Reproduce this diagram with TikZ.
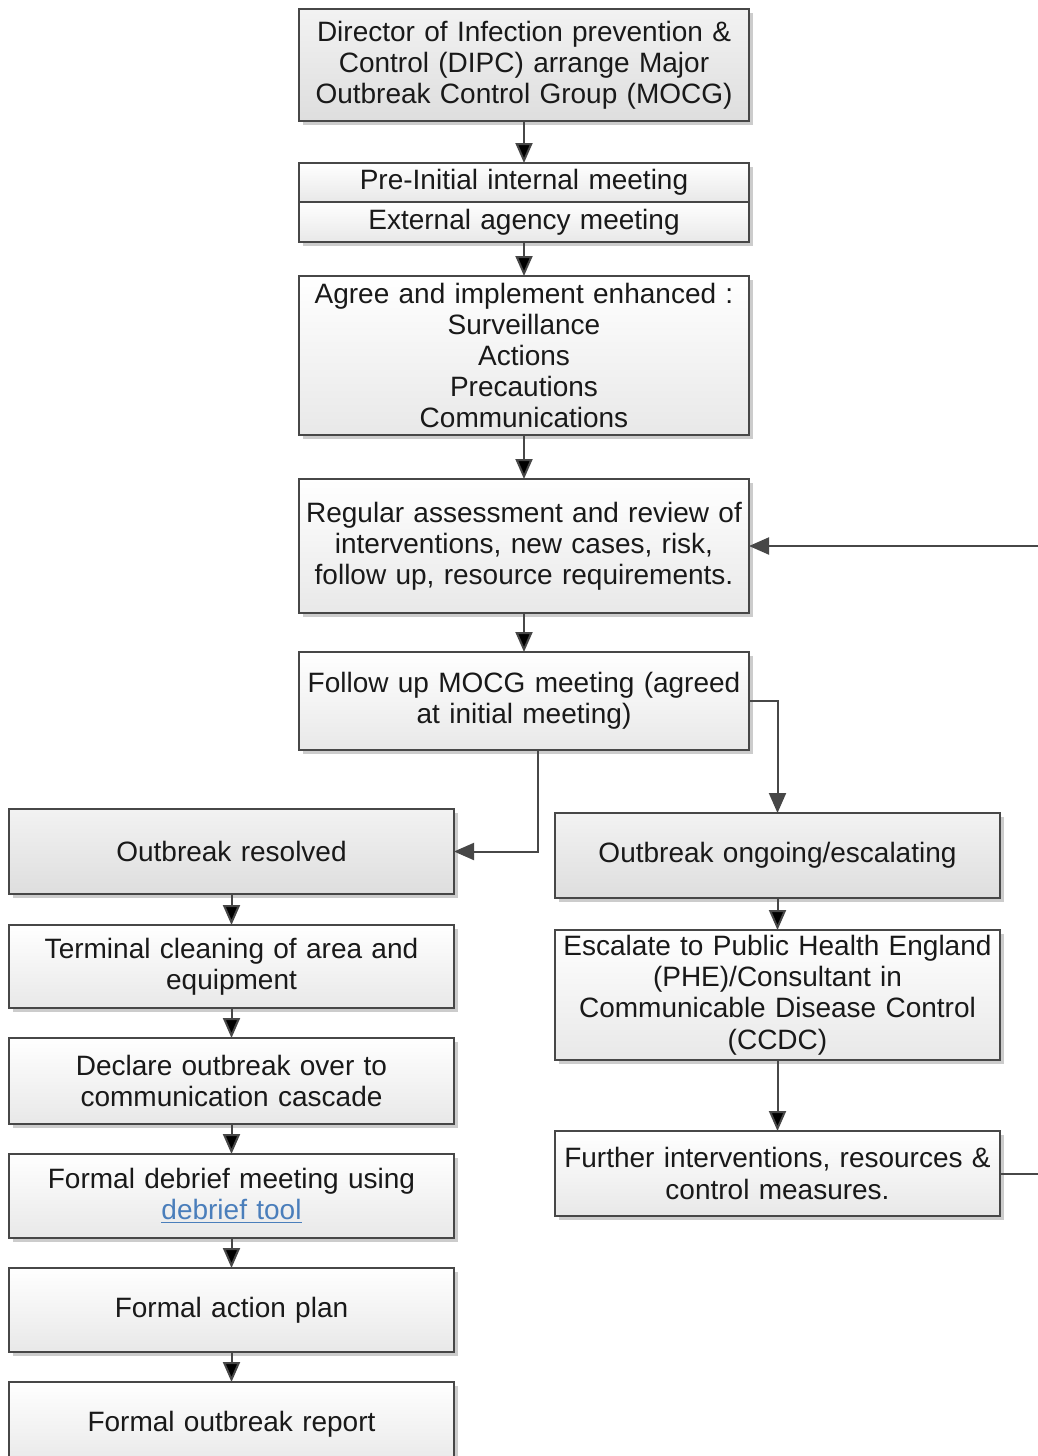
\documentclass[tikz,border=0pt]{standalone}
\usepackage{fontspec}
\setmainfont{Liberation Sans}
\usetikzlibrary{positioning,shadows,arrows.meta}
\definecolor{boxline}{HTML}{474747}
\definecolor{linkblue}{HTML}{4A7EBB}

\begin{document}
\begin{tikzpicture}[x=0.5pt,y=-0.5pt,
   box/.style={draw=boxline, line width=1pt, top color=white, bottom color=black!9,
      drop shadow={shadow xshift=2pt, shadow yshift=-2pt, fill=black!20, opacity=1},
      text width=223pt, inner xsep=1pt, inner ysep=0pt, outer sep=0pt, align=center, text=black!90,
      font=\fontsize{14pt}{15.6pt}\selectfont},
   sidebox/.style={box, text width=220.5pt},
   greybox/.style={top color=black!5, bottom color=black!13},
   arr/.style={draw=boxline, line width=1pt, -{Triangle[length=10pt,width=8.5pt]}}]
   \useasboundingbox (0,0) rectangle (1038,1456);

   \node[box, greybox, minimum height=56pt] (dipc) at (524,9) [anchor=north]
      {Director of Infection prevention \&\\ Control (DIPC) arrange Major\\ Outbreak Control Group (MOCG)};
   \node[box, minimum height=19.5pt] (pre)   [below=21pt of dipc]   {Pre-Initial internal meeting};
   \node[box, minimum height=20pt]   (ext)   [below=0pt of pre]     {External agency meeting};
   \node[box, minimum height=79.5pt] (agree) [below=17pt of ext]
      {Agree and implement enhanced :\\ Surveillance\\ Actions\\ Precautions\\ Communications};
   \node[box, minimum height=67pt]   (review) [below=22pt of agree]
      {Regular assessment and review of\\ interventions, new cases, risk,\\ follow up, resource requirements.};
   \node[box, minimum height=49pt]   (follow) [below=19.5pt of review]
      {Follow up MOCG meeting (agreed\\ at initial meeting)};

   \node[sidebox, greybox, minimum height=42.5pt] (resolved) at (231.5,809) [anchor=north] {Outbreak resolved};
   \node[sidebox, minimum height=41.5pt] (clean)   [below=15.5pt of resolved] {Terminal cleaning of area and\\ equipment};
   \node[sidebox, minimum height=43pt]   (declare) [below=15pt of clean]      {Declare outbreak over to\\ communication cascade};
   \node[sidebox, minimum height=42pt]   (debrief) [below=15pt of declare]
      {Formal debrief meeting using\\ {\color{linkblue}\underline{debrief tool}}};
   \node[sidebox, minimum height=42pt]   (plan)    [below=15pt of debrief]    {Formal action plan};
   \node[sidebox, minimum height=42.5pt] (report)  [below=15pt of plan]       {Formal outbreak report};

   \node[sidebox, greybox, minimum height=42.5pt] (ongoing) at (777.5,813) [anchor=north] {Outbreak ongoing/escalating};
   \node[sidebox, minimum height=65pt]   (escalate) [below=16pt of ongoing]
      {Escalate to Public Health England\\ (PHE)/Consultant in\\ Communicable Disease Control\\ (CCDC)};
   \node[sidebox, minimum height=42.5pt] (further)  [below=35.5pt of escalate]
      {Further interventions, resources \&\\ control measures.};

   \path[arr]
    (dipc)     edge (pre)
    (ext)      edge (agree)
    (agree)    edge (review)
    (review)   edge (follow)
    (resolved) edge (clean)
    (clean)    edge (declare)
    (declare)  edge (debrief)
    (debrief)  edge (plan)
    (plan)     edge (report)
    (ongoing)  edge (escalate)
    (escalate) edge (further);
   \draw[arr] ([xshift=6.75pt]follow.south) |- (resolved.east);
   \draw[arr] (follow.east) -| (ongoing.north);
   \draw[arr] (further.east) -- ++(45,0) |- (review.east);
\end{tikzpicture}
\end{document}
